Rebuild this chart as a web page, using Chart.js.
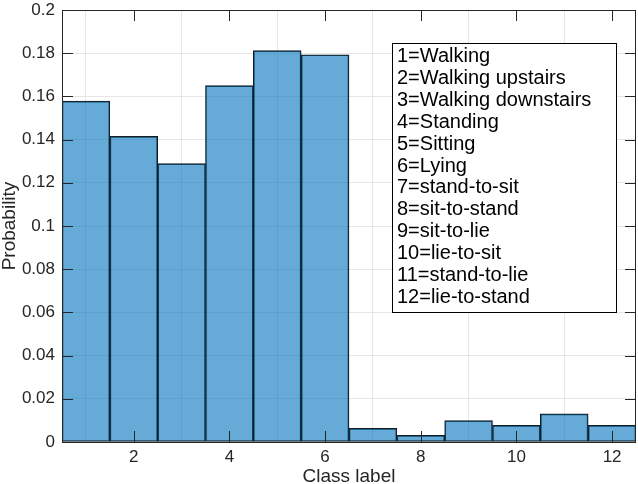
<!DOCTYPE html>
<html>
<head>
<meta charset="utf-8">
<script src="https://cdn.jsdelivr.net/npm/chart.js@4/dist/chart.umd.min.js"></script>
<style>
  html, body { margin: 0; padding: 0; background: #fff; }
  #wrap { width: 638px; height: 484px; }
</style>
</head>
<body>
<div id="wrap"><canvas id="myChart" width="638" height="484"></canvas></div>
<script>
// class labels on the x axis and the histogram probabilities
var classes = [1, 2, 3, 4, 5, 6, 7, 8, 9, 10, 11, 12];
var probs = [0.1578, 0.1415, 0.1289, 0.1650, 0.1812, 0.1793, 0.0063, 0.0031, 0.0099, 0.0077, 0.0130, 0.0077];
var xTicks = [2, 4, 6, 8, 10, 12];
var yTicks = [0, 0.02, 0.04, 0.06, 0.08, 0.1, 0.12, 0.14, 0.16, 0.18, 0.2];
var classNames = [
	'1=Walking', '2=Walking upstairs', '3=Walking downstairs', '4=Standing',
	'5=Sitting', '6=Lying', '7=stand-to-sit', '8=sit-to-stand', '9=sit-to-lie',
	'10=lie-to-sit', '11=stand-to-lie', '12=lie-to-stand'
];

var FONT = '"Liberation Sans", Arial, Helvetica, sans-serif';
var AXIS = '#262626';

// box round the axes, inward ticks on all four sides, and the text box
var boxPlugin = {
	id: 'boxPlugin',
	afterDraw: function(chart) {
		var c = chart.ctx;
		var a = chart.chartArea;
		var xs = chart.scales.x, ys = chart.scales.y;
		var tl = 11;
		c.save();
		c.strokeStyle = AXIS;
		c.lineWidth = 1;
		c.beginPath();
		xTicks.forEach(function(v) {
			var px = Math.round(xs.getPixelForValue(v)) + 0.5;
			c.moveTo(px, a.bottom); c.lineTo(px, a.bottom - tl);
			c.moveTo(px, a.top); c.lineTo(px, a.top + tl);
		});
		yTicks.forEach(function(v) {
			var py = Math.round(ys.getPixelForValue(v)) + 0.5;
			c.moveTo(a.left, py); c.lineTo(a.left + tl, py);
			c.moveTo(a.right, py); c.lineTo(a.right - tl, py);
		});
		c.stroke();
		c.strokeRect(Math.round(a.left) + 0.5, Math.round(a.top) + 0.5,
			Math.round(a.right - a.left) - 1, Math.round(a.bottom - a.top));

		// annotation box with class names
		var bx = 392, by = 43, bw = 224, bh = 269;
		c.fillStyle = '#fff';
		c.fillRect(bx, by, bw, bh);
		c.strokeStyle = '#000';
		c.strokeRect(bx + 0.5, by + 0.5, bw, bh);
		c.fillStyle = '#000';
		c.font = '20px ' + FONT;
		c.textBaseline = 'alphabetic';
		classNames.forEach(function(t, i) {
			c.fillText(t, 397, 62 + i * 21.9);
		});
		c.restore();
	}
};

var ctx = document.getElementById('myChart');
var myBarChart = new Chart(ctx, {
	type: 'bar',
	data: {
		datasets: [{
			data: classes.map(function(c, i) { return { x: c, y: probs[i] }; }),
			backgroundColor: 'rgba(0,114,189,0.6)',
			borderColor: '#1a1a1a',
			borderWidth: 1,
			borderSkipped: false,
			barPercentage: 1,
			categoryPercentage: 1
		}]
	},
	options: {
		responsive: false,
		animation: false,
		layout: { padding: { left: 0, right: 2, top: 10, bottom: 0 } },
		plugins: { legend: { display: false }, tooltip: { enabled: false } },
		scales: {
			x: {
				type: 'linear',
				min: 0.5,
				max: 12.5,
				offset: false,
				afterBuildTicks: function(s) { s.ticks = xTicks.map(function(v) { return { value: v }; }); },
				afterFit: function(s) { s.height = 42; s.paddingLeft = 0; s.paddingRight = 0; },
				grid: { color: '#e6e6e6', drawTicks: false },
				border: { display: false },
				ticks: { color: AXIS, padding: 5, font: { family: FONT, size: 17 } },
				title: { display: true, text: 'Class label', color: AXIS, font: { family: FONT, size: 19, lineHeight: 0.8 }, padding: { top: 0, bottom: 0 } }
			},
			y: {
				min: 0,
				max: 0.2,
				afterBuildTicks: function(s) { s.ticks = yTicks.map(function(v) { return { value: v }; }); },
				afterFit: function(s) { s.width = 62; s.paddingTop = 0; s.paddingBottom = 0; },
				grid: { color: '#e6e6e6', drawTicks: false },
				border: { display: false },
				ticks: {
					color: AXIS, padding: 7, font: { family: FONT, size: 17 },
					callback: function(v) { return String(+v.toFixed(2)); }
				},
				title: { display: true, text: 'Probability', color: AXIS, font: { family: FONT, size: 19, lineHeight: 0.8 }, padding: { top: 2, bottom: 0 } }
			}
		}
	},
	plugins: [boxPlugin]
});
</script>
</body>
</html>
